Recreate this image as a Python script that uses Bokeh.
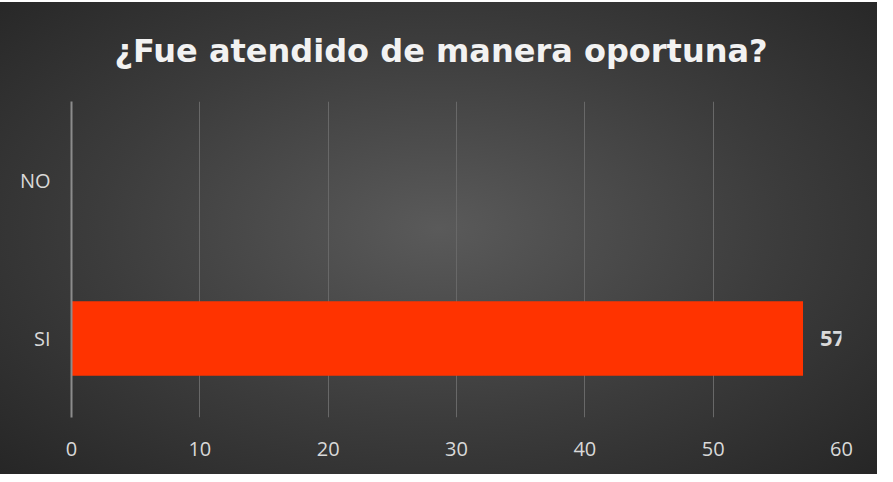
from bokeh.plotting import figure
from bokeh.models import ColumnDataSource, Range1d, FactorRange
from bokeh.core.properties import value
from bokeh.embed import file_html
from bokeh.resources import INLINE

categories = ["SI", "NO"]
counts = [57, 0]
x_ticks = [0, 10, 20, 30, 40, 50, 60]
title_text = "¿Fue atendido de manera oportuna?"

src = ColumnDataSource(dict(cat=categories, val=counts,
                            lbl=[str(v) if v else "" for v in counts]))

p = figure(width=877, height=472, y_range=FactorRange(*categories),
           x_range=Range1d(0, 60), output_backend="svg", toolbar_location=None,
           min_border_left=71, min_border_right=36, min_border_top=98,
           min_border_bottom=57)
p.margin = (2, 0, 0, 0)

p.styles = {"background": "radial-gradient(ellipse at 50% 48%, #5a5a5a 0%, #3c3c3c 55%, #262626 100%)"}
p.background_fill_color = None
p.border_fill_color = None
p.outline_line_color = None

p.title.text = title_text
p.title.align = "left"
p.title.vertical_align = "top"
p.title.offset = 43
p.title.text_color = "#f2f2f2"
p.title.text_font = "DejaVu Sans"
p.title.text_font_style = "bold"
p.title.text_font_size = "32px"
p.title.standoff = 59

p.hbar(y="cat", right="val", left=0, height=0.47, source=src,
       fill_color="#ff3300", line_color=None)
p.text(x="val", y="cat", text="lbl", source=src, x_offset=17,
       text_baseline="middle", text_align="left", text_color="#d9d9d9",
       text_font=value("Open Sans"), text_font_style="bold",
       text_font_size="22px")

p.xgrid.ticker = x_ticks
p.xgrid.grid_line_color = "#686868"
p.xgrid.grid_line_width = 1
p.ygrid.grid_line_color = None

p.xaxis.ticker = x_ticks
p.xaxis.axis_line_color = None
p.xaxis.major_tick_line_color = None
p.xaxis.minor_tick_line_color = None
p.xaxis.major_label_standoff = 18
p.xaxis.major_label_text_color = "#d9d9d9"
p.xaxis.major_label_text_font = "Open Sans"
p.xaxis.major_label_text_font_size = "20px"

p.yaxis.axis_line_color = "#8c8c8c"
p.yaxis.axis_line_width = 2
p.yaxis.major_tick_line_color = None
p.yaxis.minor_tick_line_color = None
p.yaxis.major_label_standoff = 15
p.yaxis.major_label_text_color = "#d9d9d9"
p.yaxis.major_label_text_font = "Open Sans"
p.yaxis.major_label_text_font_size = "20px"

open("out.html", "w").write(file_html(p, INLINE))
